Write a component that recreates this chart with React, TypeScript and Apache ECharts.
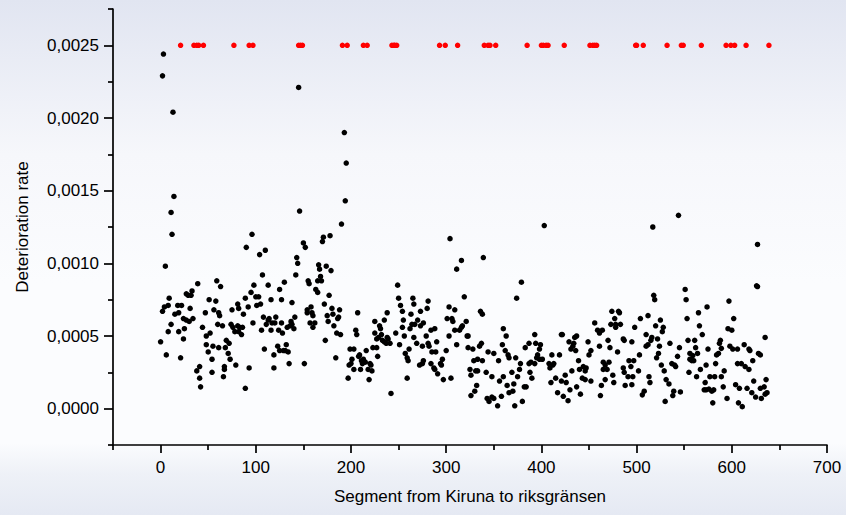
import React, { useEffect, useRef } from "react";
import * as echarts from "echarts";

// ---------- data ----------
const segmentRates: [number, number][] = [
  [14,0.00146],[11,0.00135],[12,0.0012],[5,0.00098],[96,0.0012],[90,0.00111],[104,0.00106],[110,0.00109],[107,0.00092],[113,0.00085],
  [98,0.00085],[125,0.00082],[130,0.00087],[59,0.00088],[63,0.00084],[39,0.00086],[33,0.00081],[27,0.00079],[32,0.00078],[29,0.00078],
  [9,0.00076],[4,0.0007],[8,0.00071],[2,0.00067],[18,0.00071],[22,0.00071],[15,0.00065],[19,0.00066],[31,0.00069],[24,0.00062],
  [27,0.00061],[30,0.0006],[34,0.00062],[11,0.00058],[8,0.00053],[19,0.00053],[25,0.00055],[24,0.00048],[0,0.00046],[6,0.00037],
  [21,0.00035],[51,0.00075],[58,0.00074],[56,0.00068],[47,0.00066],[61,0.00066],[62,0.00064],[60,0.00058],[65,0.00057],[44,0.00056],
  [52,0.00052],[48,0.0005],[48,0.00044],[55,0.00043],[61,0.00042],[50,0.00039],[54,0.00034],[69,0.00047],[72,0.00045],[68,0.00042],
  [71,0.00038],[73,0.00034],[67,0.00029],[67,0.00027],[79,0.0003],[66,0.00022],[54,0.00025],[41,0.00029],[38,0.00026],[41,0.00021],
  [42,0.00015],[89,0.00014],[93,0.00028],[75,0.00068],[81,0.00072],[82,0.00069],[87,0.00065],[89,0.00076],[95,0.0008],[92,0.0007],
  [100,0.00077],[103,0.00077],[101,0.00071],[105,0.00072],[74,0.00058],[76,0.00056],[81,0.00057],[83,0.00056],[86,0.00056],[78,0.00053],
  [82,0.00053],[85,0.00051],[97,0.00059],[108,0.00063],[113,0.00061],[111,0.00058],[114,0.00062],[117,0.00059],[121,0.00063],[120,0.00059],
  [124,0.00054],[127,0.00059],[128,0.00052],[116,0.00054],[106,0.00054],[109,0.00041],[119,0.00037],[123,0.00043],[125,0.0004],[119,0.00028],
  [129,0.0004],[116,0.00075],[127,0.00075],
  [146,0.00136],[150,0.00114],[152,0.00111],[143,0.00104],[144,0.001],[142,0.00092],[155,0.00088],[156,0.00086],[163,0.00082],[166,0.00099],
  [167,0.00096],[168,0.00091],[165,0.00088],[169,0.00088],[174,0.00098],[179,0.00095],[170,0.00115],[171,0.00118],[178,0.00119],[190,0.00127],
  [194,0.00143],[195,0.00169],[249,0.00085],
  [3,0.00244],[2,0.00229],[13,0.00204],[145,0.00221],[193,0.0019],
  [165,0.0008],[177,0.00078],[138,0.00073],[172,0.00072],[154,0.00068],[154,0.00066],[158,0.0007],[159,0.00066],[160,0.00064],[180,0.00069],
  [181,0.00065],[188,0.00068],[187,0.00063],[186,0.00062],[175,0.00064],[176,0.0006],[182,0.00057],[185,0.00052],[189,0.00051],[173,0.00047],
  [157,0.00059],[162,0.00059],[160,0.00056],[141,0.00063],[137,0.0006],[138,0.00058],[136,0.00057],[133,0.00056],[140,0.00055],[132,0.00044],
  [131,0.0004],[134,0.00039],[135,0.00031],[151,0.00031],[184,0.00035],[207,0.00066],[205,0.00054],[206,0.00051],[199,0.00041],[203,0.00041],
  [209,0.00037],[208,0.00036],[216,0.0004],[201,0.00034],[200,0.00031],[198,0.0003],[203,0.00027],[211,0.00033],[213,0.00034],[212,0.00031],
  [210,0.00027],[215,0.00032],[220,0.00031],[221,0.0003],[218,0.00027],[222,0.00026],[197,0.00021],[219,0.0002],[228,0.00036],[223,0.00042],
  [227,0.00042],[225,0.00052],[225,0.0006],[230,0.00057],[231,0.00055],[232,0.00051],[229,0.00049],[227,0.00048],[235,0.00061],[238,0.00066],
  [233,0.00047],[235,0.00046],[238,0.00049],[239,0.00048],[241,0.00045],[237,0.00045],[247,0.00052],[251,0.00044],[242,0.000105],[250,0.00076],
  [252,0.00071],[254,0.00067],[255,0.00061],[254,0.00056],[256,0.0005],[257,0.00038],[259,0.00035],[260,0.00033],[259,0.00021],[261,0.00041],
  [265,0.00076],[266,0.00072],[263,0.00065],[264,0.00058],[262,0.00055],[266,0.00049],
  [304,0.00117],[316,0.00102],[311,0.00096],[339,0.00104],[379,0.00087],[374,0.00076],[403,0.00126],[319,0.00077],[281,0.00074],[280,0.00069],
  [273,0.00067],[270,0.00061],[267,0.00058],[273,0.00057],[276,0.00059],[279,0.0005],[284,0.00054],[288,0.00055],[269,0.00045],[275,0.00043],
  [281,0.00045],[282,0.00043],[290,0.00046],[285,0.00039],[289,0.00039],[300,0.0004],[276,0.00033],[272,0.0003],[275,0.00031],[284,0.00031],
  [287,0.00028],[288,0.00027],[291,0.00024],[294,0.00031],[296,0.00034],[295,0.0003],[297,0.0002],[305,0.00021],[303,0.0007],[309,0.00068],
  [301,0.00062],[306,0.00062],[307,0.0006],[321,0.0006],[317,0.00057],[316,0.00056],[314,0.00054],[309,0.00054],[303,0.0005],[322,0.0005],
  [323,0.0005],[311,0.00044],[323,0.00042],[328,0.00041],[335,0.00043],[337,0.00045],[336,0.00067],[338,0.00065],[344,0.00039],[350,0.00038],
  [329,0.00033],[333,0.00034],[338,0.00033],[325,0.00027],[331,0.00026],[333,0.00026],[342,0.00025],[326,0.00023],[348,0.00022],[332,0.00016],
  [330,0.00012],[326,0.00009],[343,0.00007],[345,0.00005],[348,0.00008],[350,0.00007],[354,0.00002],[358,0.000085],[356,0.00019],[355,0.00033],
  [360,0.00055],[363,0.0005],[359,0.00044],[362,0.0004],[365,0.00037],[366,0.00035],[373,0.00035],[378,0.00031],[377,0.00027],[375,0.00022],
  [369,0.00025],[360,0.00022],[364,0.00016],[366,0.00011],[370,0.00012],[371,0.00017],[372,0.00002],[380,0.00005],[382,0.00015],[384,0.00015],
  [388,0.00025],[390,0.00021],[387,0.00031],[389,0.00032],[393,0.00031],[387,0.00045],[383,0.00042],[393,0.00051],[394,0.00045],[399,0.00044],
  [398,0.00041],[396,0.00037],[395,0.00035],[401,0.00034],[398,0.00034],
  [517,0.00125],[518,0.00078],[519,0.00075],[474,0.00067],[481,0.00067],[482,0.00066],[477,0.00062],[504,0.00062],[512,0.00064],[525,0.00061],
  [456,0.00059],[473,0.00058],[478,0.00058],[483,0.00058],[478,0.00056],[498,0.00056],[520,0.00057],[528,0.00056],[527,0.00053],[459,0.00054],
  [464,0.00054],[461,0.00052],[510,0.00051],[516,0.00049],[515,0.00047],[522,0.00048],[486,0.00048],[487,0.00047],[495,0.00046],[470,0.00047],
  [449,0.00046],[437,0.0005],[435,0.00049],[421,0.00051],[422,0.00051],[429,0.00046],[434,0.00045],[433,0.00043],[431,0.00041],[436,0.0004],
  [461,0.00043],[472,0.00042],[480,0.00039],[452,0.0004],[450,0.00037],[510,0.00043],[512,0.00044],[524,0.00043],[523,0.00038],[521,0.00035],
  [503,0.00037],[535,0.00045],[411,0.00037],[419,0.00037],[408,0.00031],[413,0.00031],[412,0.0003],[409,0.00028],[439,0.00033],[432,0.00026],
  [440,0.00027],[444,0.00029],[447,0.00028],[446,0.00026],[465,0.00032],[471,0.00032],[467,0.0003],[465,0.00027],[469,0.00027],[486,0.00028],
  [492,0.00033],[497,0.00033],[494,0.00029],[487,0.00025],[491,0.00022],[496,0.00022],[502,0.00026],[475,0.00023],[476,0.00018],[467,0.0002],
  [463,0.00016],[452,0.00019],[446,0.0002],[443,0.00021],[437,0.00015],[441,0.0001],[430,0.00013],[417,0.00011],[423,0.000085],[428,0.000055],
  [421,0.00019],[415,0.00021],[425,0.00023],[426,0.00018],[410,0.00018],[462,0.00009],[488,0.00016],[495,0.000165],[506,0.000095],[508,0.00012],
  [513,0.00022],[514,0.00018],[526,0.0003],[529,0.00026],[531,0.0002],[534,0.00017],[537,0.00031],[530,0.00005],[538,0.00009],[539,0.00012],
  [544,0.00133],[627,0.00113],[626,0.000845],[627,0.00084],[551,0.00082],[552,0.00075],[597,0.00074],[574,0.0007],[565,0.00066],[553,0.00062],
  [602,0.00062],[566,0.00057],[596,0.00055],[600,0.00054],[569,0.00051],[635,0.00049],[554,0.00047],[561,0.00047],[588,0.00047],[587,0.00045],
  [545,0.00042],[562,0.00042],[575,0.00041],[589,0.000415],[598,0.00043],[601,0.00041],[606,0.00041],[613,0.00044],[618,0.00041],[619,0.0004],
  [628,0.00038],[630,0.00037],[556,0.00038],[559,0.000365],[564,0.00038],[584,0.00037],[586,0.00038],[543,0.00036],[556,0.00034],[558,0.00033],
  [560,0.00033],[541,0.00029],[540,0.0003],[573,0.0003],[583,0.00031],[592,0.00026],[589,0.00022],[606,0.00031],[610,0.00031],[614,0.00029],
  [618,0.00027],[622,0.00033],[567,0.00027],[555,0.00025],[563,0.00022],[572,0.00018],[577,0.00022],[582,0.00022],[571,0.00013],[573,0.00013],
  [576,0.000135],[579,0.00012],[581,0.00013],[580,0.00004],[591,0.00015],[595,0.00007],[604,0.000165],[608,0.00014],[607,0.00004],[611,0.000014],
  [616,0.00014],[621,0.00011],[625,0.00008],[623,0.00019],[631,0.00007],[630,0.00014],[634,0.00015],[636,0.0002],[637,0.00011],[635,0.0001],
  [546,0.000115],
];

// segments whose rate is off the scale, drawn in red on the 0.0025 line
const flaggedSegments: number[] = [
  21, 35, 38, 40, 45, 77, 93, 97, 145, 147, 149, 191, 196, 213, 217, 243, 245, 246, 248,
  293, 299, 312, 340, 344, 346, 352, 385, 400, 402, 405, 407, 424, 451, 454, 456, 458,
  499, 500, 507, 532, 547, 549, 568, 594, 599, 603, 615, 639,
];
const flaggedRate = 0.0025;

const xMajorTicks: number[] = [0, 100, 200, 300, 400, 500, 600, 700];
const xMinorTicks: number[] = [-50, 50, 150, 250, 350, 450, 550, 650];
const yMajorTicks: number[] = [0, 0.0005, 0.001, 0.0015, 0.002, 0.0025];
const yMinorTicks: number[] = [-0.00025, 0.00025, 0.00075, 0.00125, 0.00175, 0.00225, 0.00275];

const FONT = "'Liberation Sans', Arial, Helvetica, sans-serif";

export default function App() {
  const ref = useRef<HTMLDivElement>(null);

  useEffect(() => {
    if (!ref.current) return;
    const chart = echarts.init(ref.current, undefined, { renderer: "svg" });

    const lineStyle = { color: "#000", width: 1.7 };
    const fmtY = (v: number) => v.toFixed(4).replace(".", ",");

    const option: any = {
      animation: false,
      backgroundColor: new echarts.graphic.LinearGradient(0, 0, 0, 1, [
        { offset: 0, color: "#e1e5f1" },
        { offset: 0.3, color: "#f6f7fb" },
        { offset: 0.55, color: "#fbfcfe" },
        { offset: 0.86, color: "#fbfcfe" },
        { offset: 0.92, color: "#eef1f7" },
        { offset: 1, color: "#e5e9f3" },
      ]),
      grid: { left: 113, right: 19, top: 9, bottom: 70, containLabel: false },
      xAxis: [
        {
          type: "value",
          min: -50,
          max: 700,
          interval: 50,
          position: "bottom",
          name: "Segment from Kiruna to riksgränsen",
          nameLocation: "middle",
          nameGap: 43,
          nameTextStyle: { fontSize: 17, color: "#000", fontFamily: FONT },
          axisLine: { show: true, onZero: false, lineStyle },
          axisTick: { show: true, inside: false, length: 8, customValues: xMajorTicks, lineStyle },
          axisLabel: {
            show: true,
            customValues: xMajorTicks,
            margin: 14,
            fontSize: 17,
            color: "#000",
            fontFamily: FONT,
            formatter: (v: number) => (v % 100 === 0 && v >= 0 ? String(v) : ""),
          },
          splitLine: { show: false },
        },
        {
          type: "value",
          min: -50,
          max: 700,
          interval: 50,
          position: "bottom",
          axisLine: { show: false, onZero: false },
          axisTick: { show: true, inside: false, length: 5, customValues: xMinorTicks, lineStyle },
          axisLabel: { show: false },
          splitLine: { show: false },
        },
      ],
      yAxis: [
        {
          type: "value",
          min: -0.00025,
          max: 0.00275,
          interval: 0.00025,
          position: "left",
          name: "Deterioration rate",
          nameLocation: "middle",
          nameGap: 82,
          nameTextStyle: { fontSize: 17, color: "#000", fontFamily: FONT },
          axisLine: { show: true, onZero: false, lineStyle },
          axisTick: { show: true, inside: false, length: 9, customValues: yMajorTicks, lineStyle },
          axisLabel: {
            show: true,
            customValues: yMajorTicks,
            margin: 14,
            fontSize: 17,
            color: "#000",
            fontFamily: FONT,
            formatter: (v: number) => {
              const k = Math.round(v / 0.00025);
              return k >= 0 && k % 2 === 0 ? fmtY(v) : "";
            },
          },
          splitLine: { show: false },
        },
        {
          type: "value",
          min: -0.00025,
          max: 0.00275,
          interval: 0.00025,
          position: "left",
          axisLine: { show: false, onZero: false },
          axisTick: { show: true, inside: false, length: 5, customValues: yMinorTicks, lineStyle },
          axisLabel: { show: false },
          splitLine: { show: false },
        },
      ],
      series: [
        {
          type: "scatter",
          name: "rate",
          xAxisIndex: 0,
          yAxisIndex: 0,
          data: segmentRates,
          symbol: "circle",
          symbolSize: 5.5,
          itemStyle: { color: "#000", opacity: 1 },
          silent: true,
        },
        {
          type: "scatter",
          name: "flagged",
          xAxisIndex: 0,
          yAxisIndex: 0,
          data: flaggedSegments.map((s) => [s, flaggedRate]),
          symbol: "circle",
          symbolSize: 5.5,
          itemStyle: { color: "#ff0000", opacity: 1 },
          silent: true,
        },
      ],
    };

    chart.setOption(option);
    return () => chart.dispose();
  }, []);

  return (
    <div
      ref={ref}
      style={{ position: "fixed", left: 0, top: 0, width: 846, height: 515 }}
    />
  );
}
